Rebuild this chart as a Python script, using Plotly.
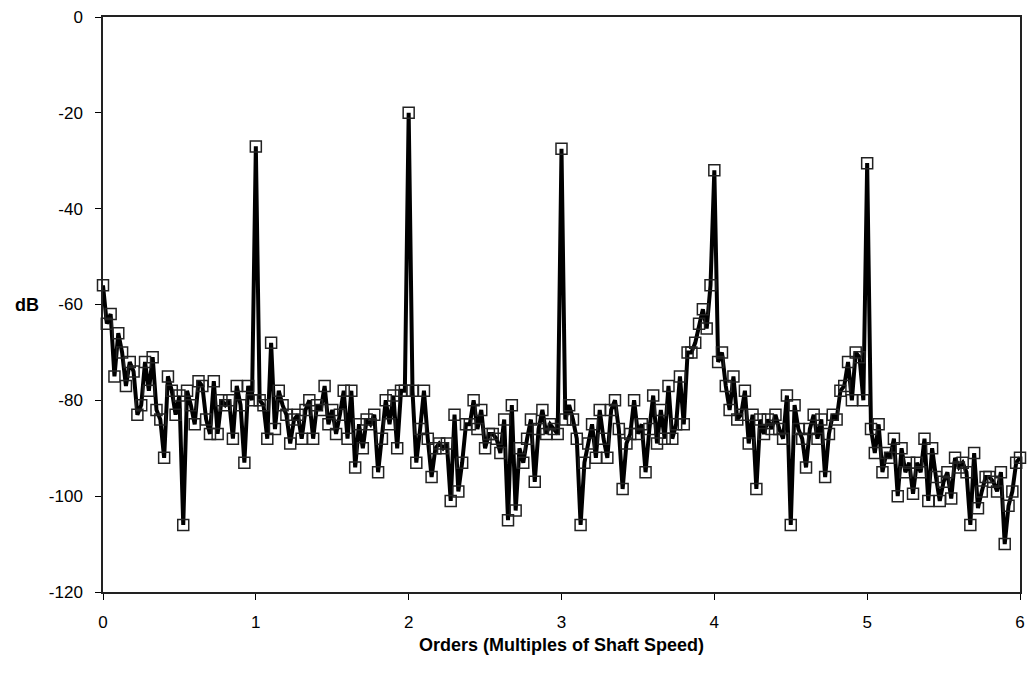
import plotly.graph_objects as go

# Order axis: spectral lines every 1/40 of an order, 0 .. 6
order_step = 0.025
n_points = 241
orders = [round(i * order_step, 3) for i in range(n_points)]

db_values = [
    -56, -64, -62, -75, -66, -70, -77, -72, -74, -83,
    -81, -72, -78, -71, -82, -84, -92, -75, -78, -83,
    -79, -106, -78, -81, -85, -76, -77, -84, -87, -76,
    -87, -80, -81, -80, -88, -77, -81, -93, -77, -80,
    -27, -80, -81, -88, -68, -86, -78, -81, -83, -89,
    -84, -83, -88, -82, -80, -88, -81, -82, -77, -85,
    -82, -87, -83, -78, -88, -78, -94, -85, -90, -84,
    -85, -83, -95, -88, -80, -85, -79, -90, -78, -78,
    -20, -78, -93, -86, -78, -88, -96, -90, -89, -90,
    -89, -101, -83, -99, -93, -85, -85, -80, -86, -82,
    -90, -87, -87, -88, -91, -84, -105, -81, -103, -90,
    -93, -88, -84, -97, -86, -82, -87, -85, -86, -87,
    -27.5, -84, -81, -84, -88, -106, -93, -89, -85, -92,
    -82, -88, -92, -82, -80, -86, -98.5, -89, -87, -80,
    -87, -85, -95, -86, -79, -89, -82, -88, -77, -88,
    -85, -75, -85, -70, -70, -68, -64, -61, -65, -56,
    -32, -72, -70, -77, -82, -75, -84, -83, -78, -89,
    -83, -98.5, -84, -87, -84, -86, -83, -86, -88, -79,
    -106, -81, -86, -88, -94, -86, -83, -88, -84, -96,
    -87, -83, -84, -78, -77, -72, -80, -70, -71, -80,
    -30.5, -86, -91, -85, -95, -91, -92, -88, -100, -90,
    -95, -93, -99.5, -93, -95, -88, -101, -90, -96, -101,
    -97, -95, -100.5, -92, -94, -93, -95, -106, -91, -102.5,
    -99, -96, -96, -97, -99, -95, -110, -102, -99, -93,
    -92,
]

x_ticks = [0, 1, 2, 3, 4, 5, 6]
x_tick_labels = ["0", "1", "2", "3", "4", "5", "6"]
y_ticks = [0, -20, -40, -60, -80, -100, -120]
y_tick_labels = ["0", "-20", "-40", "-60", "-80", "-100", "-120"]

x_title = "Orders (Multiples of Shaft Speed)"
y_title = "dB"

font_family = "Liberation Sans, Arial, sans-serif"

fig = go.Figure()
fig.add_trace(go.Scatter(
    x=orders,
    y=db_values,
    mode="lines+markers",
    line=dict(color="black", width=4),
    marker=dict(symbol="square-open", size=11, color="#222222",
                line=dict(width=1.5, color="#222222")),
    cliponaxis=False,
    showlegend=False,
    hoverinfo="skip",
))

fig.update_layout(
    width=1028,
    height=675,
    margin=dict(l=103, r=8, t=17, b=83, autoexpand=False),
    paper_bgcolor="white",
    plot_bgcolor="white",
    font=dict(family=font_family, size=17, color="black"),
    xaxis=dict(
        range=[0, 6],
        tickvals=x_ticks,
        ticktext=x_tick_labels,
        ticks="outside",
        ticklen=6,
        tickcolor="black",
        ticklabelstandoff=8,
        showline=True,
        linecolor="#222222",
        linewidth=1.5,
        mirror=True,
        showgrid=False,
        zeroline=False,
        tickfont=dict(size=17),
    ),
    yaxis=dict(
        range=[-120, 0],
        tickvals=y_ticks,
        ticktext=y_tick_labels,
        ticks="outside",
        ticklen=6,
        tickcolor="black",
        ticklabelstandoff=9,
        showline=True,
        linecolor="#222222",
        linewidth=1.5,
        mirror=True,
        showgrid=False,
        zeroline=False,
        tickfont=dict(size=17),
    ),
    annotations=[
        dict(
            text="<b>" + y_title + "</b>",
            xref="paper", yref="paper",
            x=-0.068, y=0.5, xanchor="right", yanchor="middle",
            showarrow=False,
            font=dict(size=18, family=font_family),
        ),
        dict(
            text="<b>" + x_title + "</b>",
            xref="paper", yref="paper",
            x=0.5, y=-0.093, xanchor="center", yanchor="middle",
            showarrow=False,
            font=dict(size=18, family=font_family),
        ),
    ],
)

fig.write_html("out.html", config={"displayModeBar": False},
               post_script="document.body.style.margin='0px';")
